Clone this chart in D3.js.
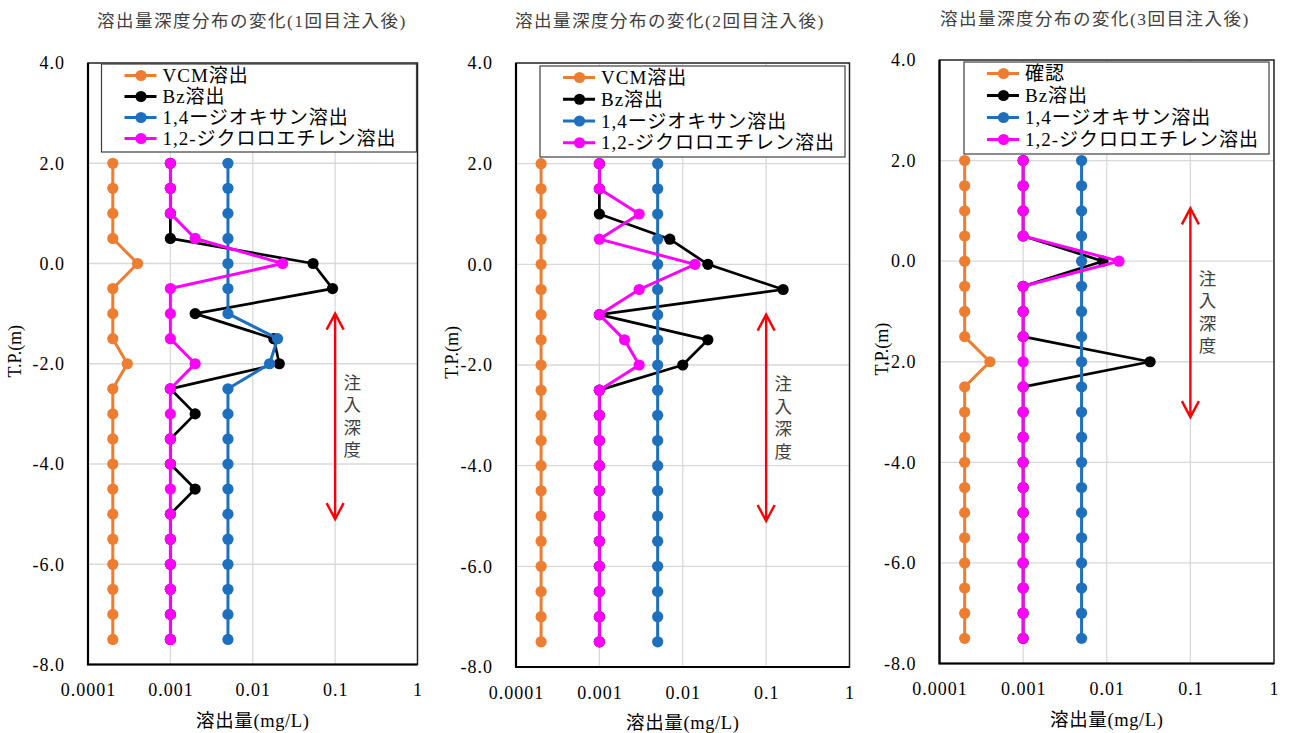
<!DOCTYPE html>
<html>
<head>
<meta charset="utf-8">
<script src="https://cdn.jsdelivr.net/npm/d3@7"></script>
<style>
  body { margin: 0; background: #fff; }
  svg { display: block; font-family: "Liberation Serif", "Noto Sans CJK JP", serif; }
  .domain { display: none; }
</style>
</head>
<body>
<svg width="1289" height="733"></svg>
<script>
// depths (T.P. m) and values (mg/L)
let depths = [2.0, 1.5, 1.0, 0.5, 0.0, -0.5, -1.0, -1.5, -2.0, -2.5, -3.0, -3.5, -4.0, -4.5, -5.0, -5.5, -6.0, -6.5, -7.0, -7.5];

let titles = ["溶出量深度分布の変化(1回目注入後)", "溶出量深度分布の変化(2回目注入後)", "溶出量深度分布の変化(3回目注入後)"];
let seriesNames = ["VCM溶出", "Bz溶出", "1,4ージオキサン溶出", "1,2-ジクロロエチレン溶出"];
let seriesNames3 = ["確認", "Bz溶出", "1,4ージオキサン溶出", "1,2-ジクロロエチレン溶出"];
let seriesColors = ["#ED7D31", "#000000", "#1F6FBF", "#FF00FF"];

let xTicks = [0.0001, 0.001, 0.01, 0.1, 1];
let xTickLabels = ["0.0001", "0.001", "0.01", "0.1", "1"];
let yTicks = [4, 2, 0, -2, -4, -6, -8];

// 1st injection
let vcm1 = [0.0002, 0.0002, 0.0002, 0.0002, 0.0004, 0.0002, 0.0002, 0.0002, 0.0003, 0.0002, 0.0002, 0.0002, 0.0002, 0.0002, 0.0002, 0.0002, 0.0002, 0.0002, 0.0002, 0.0002];
let bz1 = [0.001, 0.001, 0.001, 0.001, 0.054, 0.093, 0.002, 0.018, 0.021, 0.001, 0.002, 0.001, 0.001, 0.002, 0.001, 0.001, 0.001, 0.001, 0.001, 0.001];
let diox1 = [0.005, 0.005, 0.005, 0.005, 0.005, 0.005, 0.005, 0.02, 0.016, 0.005, 0.005, 0.005, 0.005, 0.005, 0.005, 0.005, 0.005, 0.005, 0.005, 0.005];
let dce1 = [0.001, 0.001, 0.001, 0.002, 0.023, 0.001, 0.001, 0.001, 0.002, 0.001, 0.001, 0.001, 0.001, 0.001, 0.001, 0.001, 0.001, 0.001, 0.001, 0.001];

// 2nd injection
let vcm2 = [0.0002, 0.0002, 0.0002, 0.0002, 0.0002, 0.0002, 0.0002, 0.0002, 0.0002, 0.0002, 0.0002, 0.0002, 0.0002, 0.0002, 0.0002, 0.0002, 0.0002, 0.0002, 0.0002, 0.0002];
let bz2 = [0.001, 0.001, 0.001, 0.007, 0.02, 0.16, 0.001, 0.02, 0.01, 0.001, 0.001, 0.001, 0.001, 0.001, 0.001, 0.001, 0.001, 0.001, 0.001, 0.001];
let diox2 = [0.005, 0.005, 0.005, 0.005, 0.005, 0.005, 0.005, 0.005, 0.005, 0.005, 0.005, 0.005, 0.005, 0.005, 0.005, 0.005, 0.005, 0.005, 0.005, 0.005];
let dce2 = [0.001, 0.001, 0.003, 0.001, 0.014, 0.003, 0.001, 0.002, 0.003, 0.001, 0.001, 0.001, 0.001, 0.001, 0.001, 0.001, 0.001, 0.001, 0.001, 0.001];

// 3rd injection
let vcm3 = [0.0002, 0.0002, 0.0002, 0.0002, 0.0002, 0.0002, 0.0002, 0.0002, 0.0004, 0.0002, 0.0002, 0.0002, 0.0002, 0.0002, 0.0002, 0.0002, 0.0002, 0.0002, 0.0002, 0.0002];
let bz3 = [0.001, 0.001, 0.001, 0.001, 0.009, 0.001, 0.001, 0.001, 0.033, 0.001, 0.001, 0.001, 0.001, 0.001, 0.001, 0.001, 0.001, 0.001, 0.001, 0.001];
let diox3 = [0.005, 0.005, 0.005, 0.005, 0.005, 0.005, 0.005, 0.005, 0.005, 0.005, 0.005, 0.005, 0.005, 0.005, 0.005, 0.005, 0.005, 0.005, 0.005, 0.005];
let dce3 = [0.001, 0.001, 0.001, 0.001, 0.014, 0.001, 0.001, 0.001, 0.001, 0.001, 0.001, 0.001, 0.001, 0.001, 0.001, 0.001, 0.001, 0.001, 0.001, 0.001];

// injection depth arrows: [x value, top depth, bottom depth]
let arrows = [[0.1, -1.0, -5.1], [0.1, -1.0, -5.1], [0.1, 1.05, -3.1]];

// panel geometry
let panels = [
    { left: 88, right: 417.5, top: 63, bottom: 664.5, titleX: 252, titleY: 21, legend: [101.5, 64, 315, 88], yTitleX: 15 },
    { left: 516, right: 849.5, top: 63, bottom: 667, titleX: 670, titleY: 21, legend: [540, 66, 305, 91], yTitleX: 452 },
    { left: 939.5, right: 1274, top: 60, bottom: 663.5, titleX: 1095, titleY: 19, legend: [964, 62, 305, 92], yTitleX: 882 }
];
let panelSeries = [[vcm1, bz1, diox1, dce1], [vcm2, bz2, diox2, dce2], [vcm3, bz3, diox3, dce3]];
let panelNames = [seriesNames, seriesNames, seriesNames3];

let svg = d3.select("svg");

panels.forEach((p, pi) => {
    let g = svg.append("g").attr("class", "panel" + pi);
    let x = d3.scaleLog().domain([0.0001, 1]).range([p.left, p.right]);
    let y = d3.scaleLinear().domain([-8, 4]).range([p.bottom, p.top]);

    // gridlines
    g.append("g").selectAll("line.vg").data(xTicks.slice(1, -1)).join("line")
        .attr("x1", d => x(d)).attr("x2", d => x(d))
        .attr("y1", p.top).attr("y2", p.bottom)
        .attr("stroke", "#d9d9d9").attr("stroke-width", 1.3);
    g.append("g").selectAll("line.hg").data(yTicks.slice(1, -1)).join("line")
        .attr("x1", p.left).attr("x2", p.right)
        .attr("y1", d => y(d)).attr("y2", d => y(d))
        .attr("stroke", "#d9d9d9").attr("stroke-width", 1.3);

    // plot border
    g.append("rect")
        .attr("x", p.left).attr("y", p.top)
        .attr("width", p.right - p.left).attr("height", p.bottom - p.top)
        .attr("fill", "none").attr("stroke", "#222").attr("stroke-width", 1.5);
    g.append("path")
        .attr("d", `M${p.left},${p.top}V${p.bottom}H${p.right}`)
        .attr("fill", "none").attr("stroke", "#000").attr("stroke-width", 2.2);

    // axes
    g.append("g")
        .attr("transform", `translate(0,${p.bottom})`)
        .call(d3.axisBottom(x).tickValues(xTicks).tickFormat((d, i) => xTickLabels[i]).tickSize(0).tickPadding(19))
        .call(a => a.selectAll("text").attr("font-size", 18).attr("font-family", "Liberation Serif").attr("letter-spacing", 1).attr("fill", "#000"));
    g.append("g")
        .attr("transform", `translate(${p.left},0)`)
        .call(d3.axisLeft(y).tickValues(yTicks).tickFormat(d => d.toFixed(1)).tickSize(0).tickPadding(23))
        .call(a => a.selectAll("text").attr("font-size", 18).attr("font-family", "Liberation Serif").attr("letter-spacing", 1).attr("fill", "#000"));

    // titles
    g.append("text")
        .attr("x", p.titleX).attr("y", p.titleY)
        .attr("text-anchor", "middle").attr("dominant-baseline", "central")
        .attr("font-size", 17.5).attr("letter-spacing", 1.5).attr("fill", "#404040")
        .text(titles[pi]);
    g.append("text")
        .attr("x", (p.left + p.right) / 2).attr("y", p.bottom + 56)
        .attr("text-anchor", "middle").attr("dominant-baseline", "central")
        .attr("font-size", 18.5).attr("letter-spacing", 0.6).attr("fill", "#000")
        .text("溶出量(mg/L)");
    g.append("text")
        .attr("transform", `translate(${p.yTitleX},${y(-1.75)}) rotate(-90)`)
        .attr("text-anchor", "middle").attr("dominant-baseline", "central")
        .attr("font-size", 18).attr("fill", "#000")
        .text("T.P.(m)");

    // series, drawn in legend order
    let line = d3.line().x(d => x(d[0])).y(d => y(d[1]));
    panelSeries[pi].forEach((vals, si) => {
        let pts = vals.map((v, i) => [v, depths[i]]);
        let s = g.append("g");
        s.append("path").datum(pts)
            .attr("d", line)
            .attr("fill", "none")
            .attr("stroke", seriesColors[si])
            .attr("stroke-width", si == 1 ? 2.7 : 3)
            .attr("stroke-linejoin", "round");
        s.selectAll("circle").data(pts).join("circle")
            .attr("cx", d => x(d[0])).attr("cy", d => y(d[1]))
            .attr("r", 5.6)
            .attr("fill", seriesColors[si]);
    });

    // injection depth arrow
    let ar = arrows[pi];
    let ax = x(ar[0]), ay1 = y(ar[1]), ay2 = y(ar[2]);
    g.append("line")
        .attr("x1", ax).attr("x2", ax).attr("y1", ay1 + 1).attr("y2", ay2 - 1)
        .attr("stroke", "#FF0000").attr("stroke-width", 2.4);
    g.append("path")
        .attr("d", `M${ax - 8.5},${ay1 + 16}L${ax},${ay1}L${ax + 8.5},${ay1 + 16}M${ax - 8.5},${ay2 - 16}L${ax},${ay2}L${ax + 8.5},${ay2 - 16}`)
        .attr("fill", "none").attr("stroke", "#FF0000").attr("stroke-width", 2.4);
    let mid = (ay1 + ay2) / 2;
    g.append("g").selectAll("text").data(["注", "入", "深", "度"]).join("text")
        .attr("x", ax + 17).attr("y", (d, i) => mid + (i - 1.5) * 22.5)
        .attr("text-anchor", "middle").attr("dominant-baseline", "central")
        .attr("font-size", 17.5).attr("fill", "#404040")
        .text(d => d);

    // legend
    let [lx, ly, lw, lh] = p.legend;
    let lg = g.append("g");
    lg.append("rect")
        .attr("x", lx).attr("y", ly).attr("width", lw).attr("height", lh)
        .attr("fill", "#fff").attr("stroke", "#404040").attr("stroke-width", 1.2);
    let rowH = (lh - 4) / 4;
    panelNames[pi].forEach((name, si) => {
        let cy = ly + 11 + rowH * si + 0.5;
        lg.append("line")
            .attr("x1", lx + 23).attr("x2", lx + 55).attr("y1", cy).attr("y2", cy)
            .attr("stroke", seriesColors[si]).attr("stroke-width", 3);
        lg.append("circle")
            .attr("cx", lx + 39.5).attr("cy", cy).attr("r", 5.6)
            .attr("fill", seriesColors[si]);
        lg.append("text")
            .attr("x", lx + 61).attr("y", cy)
            .attr("dominant-baseline", "central")
            .attr("font-size", 19).attr("letter-spacing", 1).attr("fill", "#000")
            .text(name);
    });
});
</script>
</body>
</html>
